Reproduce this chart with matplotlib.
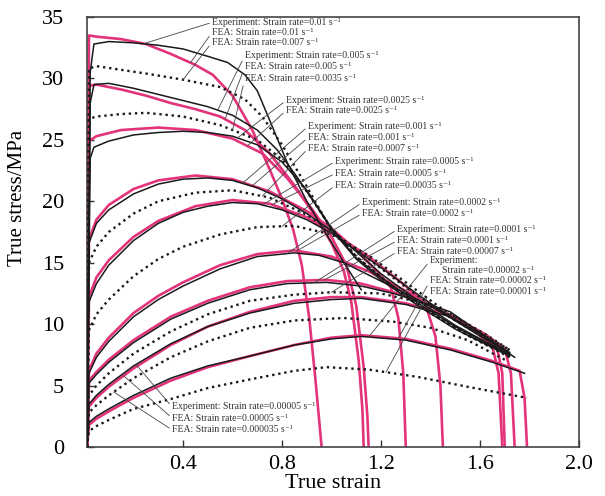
import numpy as np
import matplotlib
matplotlib.use("Agg")
import matplotlib.pyplot as plt

plt.rcParams['font.family'] = ['Liberation Serif', 'DejaVu Serif']
plt.rcParams['mathtext.fontset'] = 'stix'

# ---- experiment curves (black solid): strain, stress ----
exp_001_x = [0.012, 0.025, 0.04, 0.10, 0.20, 0.30, 0.40, 0.50, 0.58, 0.65, 0.70, 0.75, 0.82, 0.90, 0.98, 1.05, 1.12]
exp_001_y = [0, 30.5, 32.8, 33.0, 32.9, 32.7, 32.4, 31.8, 31.3, 30.3, 29.0, 26.6, 23.2, 20.0, 17.3, 15.0, 12.8]
exp_0005_x = [0.012, 0.025, 0.04, 0.10, 0.20, 0.30, 0.40, 0.50, 0.60, 0.70, 0.78, 0.86, 0.94, 1.00, 1.10, 1.20, 1.35, 1.50, 1.62, 1.72]
exp_0005_y = [0, 28.0, 29.5, 29.6, 29.2, 28.7, 28.2, 27.7, 27.0, 25.8, 24.2, 22.0, 19.6, 17.7, 15.3, 13.6, 11.5, 9.6, 8.4, 7.4]
exp_00025_x = [0.012, 0.025, 0.04, 0.10, 0.20, 0.30, 0.40, 0.50, 0.60, 0.70, 0.80, 0.90, 1.00, 1.10, 1.20, 1.35, 1.50, 1.62, 1.72]
exp_00025_y = [0, 23.5, 24.4, 24.9, 25.4, 25.6, 25.7, 25.6, 25.3, 24.6, 23.2, 20.9, 17.8, 15.4, 13.8, 11.7, 9.8, 8.5, 7.5]
exp_0001_x = [0.012, 0.02, 0.05, 0.10, 0.20, 0.30, 0.40, 0.50, 0.60, 0.70, 0.80, 0.90, 1.00, 1.10, 1.20, 1.35, 1.50, 1.62, 1.72]
exp_0001_y = [0, 16.6, 18.2, 19.3, 20.6, 21.4, 21.8, 21.9, 21.7, 21.1, 20.2, 19.0, 17.6, 15.9, 14.1, 11.9, 9.9, 8.6, 7.6]
exp_00005_x = [0.012, 0.02, 0.05, 0.10, 0.20, 0.30, 0.40, 0.50, 0.60, 0.70, 0.80, 0.90, 1.00, 1.10, 1.20, 1.35, 1.50, 1.62, 1.72]
exp_00005_y = [0, 11.8, 13.3, 14.8, 16.8, 18.2, 19.1, 19.6, 19.9, 19.8, 19.3, 18.5, 17.4, 16.0, 14.6, 12.4, 10.3, 8.8, 7.7]
exp_00002_x = [0.012, 0.02, 0.05, 0.10, 0.20, 0.30, 0.40, 0.55, 0.70, 0.85, 0.95, 1.05, 1.15, 1.30, 1.45, 1.58, 1.70]
exp_00002_y = [0, 6.0, 7.3, 8.6, 10.6, 12.0, 13.1, 14.5, 15.5, 15.8, 15.6, 15.0, 14.0, 12.5, 10.9, 9.3, 7.9]
exp_00001_x = [0.012, 0.02, 0.05, 0.10, 0.20, 0.35, 0.50, 0.67, 0.82, 0.98, 1.12, 1.25, 1.38, 1.48, 1.58, 1.70]
exp_00001_y = [0, 5.2, 5.9, 6.9, 8.5, 10.4, 11.7, 12.8, 13.3, 13.4, 13.1, 12.5, 11.7, 11.0, 9.6, 7.9]
exp_000005_x = [0.012, 0.02, 0.05, 0.10, 0.20, 0.35, 0.50, 0.67, 0.85, 1.00, 1.12, 1.30, 1.48, 1.62, 1.74]
exp_000005_y = [0, 3.5, 4.2, 5.1, 6.6, 8.4, 9.8, 10.9, 11.7, 12.0, 12.1, 11.6, 10.6, 9.0, 7.3]
exp_000002_x = [0.012, 0.02, 0.05, 0.10, 0.20, 0.35, 0.50, 0.67, 0.85, 1.00, 1.12, 1.30, 1.48, 1.65, 1.78]
exp_000002_y = [0, 2.0, 2.5, 3.1, 4.2, 5.6, 6.6, 7.4, 8.3, 8.8, 9.0, 8.7, 7.9, 6.9, 6.0]

# ---- FEA at the same rates (magenta), ending with fracture drop ----
fea_001_x = [0.012, 0.02, 0.05, 0.15, 0.25, 0.35, 0.45, 0.52, 0.60, 0.68, 0.75, 0.80, 0.845, 0.88, 0.91, 0.935, 0.96]
fea_001_y = [0, 33.5, 33.4, 33.2, 32.8, 32.0, 31.1, 30.3, 28.6, 25.8, 22.6, 20.2, 17.7, 14.8, 10.5, 5.5, 0]
fea_0005_x = [0.012, 0.02, 0.05, 0.15, 0.25, 0.35, 0.45, 0.55, 0.65, 0.75, 0.85, 0.93, 1.00, 1.05, 1.08, 1.11, 1.125, 1.13]
fea_0005_y = [0, 29.4, 29.5, 29.1, 28.6, 28.0, 27.5, 26.9, 25.8, 23.9, 21.3, 18.9, 16.6, 14.3, 11.8, 7.0, 3.0, 0]
fea_00025_x = [0.012, 0.02, 0.05, 0.15, 0.30, 0.45, 0.60, 0.72, 0.82, 0.92, 1.00, 1.06, 1.10, 1.13, 1.145, 1.15]
fea_00025_y = [0, 24.9, 25.3, 25.8, 26.0, 25.8, 25.1, 23.9, 21.9, 19.4, 17.1, 14.8, 11.5, 6.5, 2.5, 0]
fea_0001_x = [0.012, 0.02, 0.05, 0.10, 0.20, 0.30, 0.45, 0.60, 0.75, 0.90, 1.00, 1.10, 1.18, 1.24, 1.27, 1.29, 1.30]
fea_0001_y = [0, 16.9, 18.5, 19.7, 21.0, 21.7, 22.1, 21.8, 20.8, 19.2, 17.8, 16.0, 14.4, 13.0, 10.5, 6.0, 0]
fea_00005_x = [0.012, 0.02, 0.05, 0.10, 0.20, 0.30, 0.45, 0.60, 0.75, 0.90, 1.00, 1.15, 1.30, 1.38, 1.42, 1.44, 1.45]
fea_00005_y = [0, 12.2, 13.8, 15.2, 17.1, 18.4, 19.6, 20.1, 19.8, 18.7, 17.5, 15.5, 13.1, 11.6, 9.0, 5.0, 0]
fea_00002_x = [0.012, 0.02, 0.05, 0.10, 0.20, 0.30, 0.40, 0.55, 0.70, 0.85, 1.00, 1.15, 1.30, 1.45, 1.58, 1.65, 1.675, 1.69]
fea_00002_y = [0, 6.2, 7.6, 8.9, 10.9, 12.3, 13.4, 14.8, 15.7, 16.0, 15.5, 14.3, 12.7, 11.0, 9.4, 8.2, 6.0, 0]
fea_00001_x = [0.012, 0.02, 0.05, 0.10, 0.20, 0.35, 0.50, 0.67, 0.82, 0.98, 1.12, 1.25, 1.38, 1.50, 1.60, 1.67, 1.69, 1.70]
fea_00001_y = [0, 5.4, 6.1, 7.1, 8.7, 10.6, 11.9, 13.0, 13.5, 13.6, 13.3, 12.6, 11.7, 10.5, 9.2, 8.0, 6.0, 0]
fea_000005_x = [0.012, 0.02, 0.05, 0.10, 0.20, 0.35, 0.50, 0.67, 0.85, 1.00, 1.12, 1.30, 1.48, 1.62, 1.70, 1.725, 1.74]
fea_000005_y = [0, 3.3, 4.0, 4.9, 6.4, 8.3, 9.8, 11.0, 11.9, 12.2, 12.2, 11.7, 10.7, 9.2, 8.0, 6.0, 0]
fea_000002_x = [0.012, 0.02, 0.05, 0.10, 0.20, 0.35, 0.50, 0.67, 0.85, 1.00, 1.12, 1.30, 1.48, 1.65, 1.76, 1.78, 1.79]
fea_000002_y = [0, 1.8, 2.3, 2.9, 4.0, 5.4, 6.5, 7.4, 8.3, 8.9, 9.1, 8.8, 8.0, 7.0, 6.2, 4.0, 0]

# ---- FEA at intermediate rates (black dotted) ----
fea_0007_x = [0.012, 0.02, 0.05, 0.15, 0.25, 0.40, 0.55, 0.65, 0.72, 0.80, 0.90, 0.99, 1.10, 1.25, 1.40, 1.55, 1.72]
fea_0007_y = [0, 30.8, 31.0, 30.7, 30.4, 29.9, 29.3, 28.3, 26.9, 24.6, 21.2, 18.0, 15.5, 13.0, 10.9, 9.1, 7.3]
fea_00035_x = [0.012, 0.02, 0.05, 0.15, 0.25, 0.40, 0.55, 0.70, 0.80, 0.90, 1.00, 1.10, 1.25, 1.40, 1.55, 1.72]
fea_00035_y = [0, 26.7, 26.9, 27.1, 27.2, 26.9, 26.2, 25.0, 23.4, 20.8, 17.8, 15.5, 13.0, 10.9, 9.1, 7.4]
fea_00007_x = [0.012, 0.02, 0.05, 0.10, 0.20, 0.30, 0.45, 0.60, 0.75, 0.90, 1.00, 1.15, 1.30, 1.45, 1.60, 1.72]
fea_00007_y = [0, 15.0, 16.3, 17.5, 19.0, 20.0, 20.7, 20.9, 20.3, 18.9, 17.6, 15.3, 13.0, 10.9, 9.1, 7.7]
fea_000035_x = [0.012, 0.02, 0.05, 0.10, 0.20, 0.30, 0.40, 0.55, 0.70, 0.85, 1.00, 1.15, 1.30, 1.45, 1.60, 1.72]
fea_000035_y = [0, 9.5, 10.8, 12.0, 13.9, 15.3, 16.3, 17.3, 17.9, 18.0, 17.3, 15.6, 13.4, 11.2, 9.3, 7.9]
fea_0000007_x = [0.012, 0.02, 0.05, 0.10, 0.20, 0.35, 0.50, 0.67, 0.85, 1.00, 1.20, 1.35, 1.50, 1.62, 1.72]
fea_0000007_y = [0, 4.2, 5.0, 6.0, 7.6, 9.4, 10.8, 11.9, 12.4, 12.6, 12.5, 11.8, 10.6, 9.2, 7.9]
fea_0000035_x = [0.012, 0.02, 0.05, 0.10, 0.20, 0.35, 0.50, 0.67, 0.85, 1.05, 1.25, 1.40, 1.55, 1.70]
fea_0000035_y = [0, 2.8, 3.4, 4.2, 5.6, 7.3, 8.6, 9.7, 10.3, 10.5, 10.2, 9.7, 8.7, 7.1]
fea_000001_x = [0.012, 0.02, 0.05, 0.10, 0.20, 0.35, 0.50, 0.67, 0.85, 0.98, 1.15, 1.35, 1.55, 1.79]
fea_000001_y = [0, 1.3, 1.7, 2.2, 3.1, 3.9, 4.8, 5.5, 6.2, 6.5, 6.3, 5.7, 4.9, 4.0]

magenta = '#e3337b'
solid_curves = [(exp_001_x, exp_001_y), (exp_0005_x, exp_0005_y), (exp_00025_x, exp_00025_y),
                (exp_0001_x, exp_0001_y), (exp_00005_x, exp_00005_y), (exp_00002_x, exp_00002_y),
                (exp_00001_x, exp_00001_y), (exp_000005_x, exp_000005_y), (exp_000002_x, exp_000002_y)]
fea_curves = [(fea_001_x, fea_001_y), (fea_0005_x, fea_0005_y), (fea_00025_x, fea_00025_y),
              (fea_0001_x, fea_0001_y), (fea_00005_x, fea_00005_y), (fea_00002_x, fea_00002_y),
              (fea_00001_x, fea_00001_y), (fea_000005_x, fea_000005_y), (fea_000002_x, fea_000002_y)]
dot_curves = [(fea_0007_x, fea_0007_y), (fea_00035_x, fea_00035_y), (fea_00007_x, fea_00007_y),
              (fea_000035_x, fea_000035_y), (fea_0000007_x, fea_0000007_y),
              (fea_0000035_x, fea_0000035_y), (fea_000001_x, fea_000001_y)]

fig = plt.figure(figsize=(6.05, 4.96), dpi=100)
ax = fig.add_axes([86.5 / 605, 49 / 496, 492.5 / 605, 430 / 496])

for x, y in fea_curves:
    ax.plot(x, y, color=magenta, lw=1.9, zorder=2)
for x, y in solid_curves:
    ax.plot(x, y, color='#1a1a1a', lw=1.1, zorder=3)
for x, y in dot_curves:
    ax.plot(x, y, color='#1a1a1a', lw=1.7, ls=(0, (1, 1.6)), zorder=3)

# labels: text, curve, x on curve where the leader ends, text position (data)
s1 = ' s\u207b\u00b9'
labels = [
    ('Experiment: Strain rate=0.01' + s1, exp_001_x, exp_001_y, 0.24, (0.517, 34.56)),
    ('FEA: Strain rate=0.01' + s1, fea_001_x, fea_001_y, 0.43, (0.517, 33.74)),
    ('FEA: Strain rate=0.007' + s1, fea_0007_x, fea_0007_y, 0.40, (0.517, 32.93)),
    ('Experiment: Strain rate=0.005' + s1, exp_0005_x, exp_0005_y, 0.54, (0.650, 31.87)),
    ('FEA: Strain rate=0.005' + s1, fea_0005_x, fea_0005_y, 0.57, (0.650, 30.97)),
    ('FEA: Strain rate=0.0035' + s1, fea_00035_x, fea_00035_y, 0.60, (0.650, 29.99)),
    ('Experiment: Strain rate=0.0025' + s1, exp_00025_x, exp_00025_y, 0.62, (0.816, 28.20)),
    ('FEA: Strain rate=0.0025' + s1, fea_00025_x, fea_00025_y, 0.66, (0.816, 27.38)),
    ('Experiment: Strain rate=0.001' + s1, exp_0001_x, exp_0001_y, 0.64, (0.905, 26.08)),
    ('FEA: Strain rate=0.001' + s1, fea_0001_x, fea_0001_y, 0.68, (0.905, 25.18)),
    ('FEA: Strain rate=0.0007' + s1, fea_00007_x, fea_00007_y, 0.72, (0.905, 24.29)),
    ('Experiment: Strain rate=0.0005' + s1, exp_00005_x, exp_00005_y, 0.72, (1.014, 23.23)),
    ('FEA: Strain rate=0.0005' + s1, fea_00005_x, fea_00005_y, 0.76, (1.014, 22.25)),
    ('FEA: Strain rate=0.00035' + s1, fea_000035_x, fea_000035_y, 0.80, (1.014, 21.27)),
    ('Experiment: Strain rate=0.0002' + s1, exp_00002_x, exp_00002_y, 0.82, (1.123, 19.89)),
    ('FEA: Strain rate=0.0002' + s1, fea_00002_x, fea_00002_y, 0.86, (1.123, 18.99)),
    ('Experiment: Strain rate=0.0001' + s1, exp_00001_x, exp_00001_y, 0.93, (1.265, 17.69)),
    ('FEA: Strain rate=0.0001' + s1, fea_00001_x, fea_00001_y, 0.97, (1.265, 16.79)),
    ('FEA: Strain rate=0.00007' + s1, fea_0000007_x, fea_0000007_y, 1.00, (1.265, 15.89)),
    ('Experiment:', exp_000002_x, exp_000002_y, 1.15, (1.398, 15.16)),
    ('FEA: Strain rate=0.00002' + s1, fea_000002_x, fea_000002_y, 1.27, (1.398, 13.53)),
    ('FEA: Strain rate=0.00001' + s1, fea_000001_x, fea_000001_y, 1.22, (1.398, 12.63)),
    ('Experiment: Strain rate=0.00005' + s1, exp_000005_x, exp_000005_y, 0.21, (0.356, 3.26)),
    ('FEA: Strain rate=0.00005' + s1, fea_000005_x, fea_000005_y, 0.16, (0.356, 2.36)),
    ('FEA: Strain rate=0.000035' + s1, fea_0000035_x, fea_0000035_y, 0.12, (0.356, 1.39)),
]
for text, cx, cy, tx, pos in labels:
    ty = np.interp(tx, cx, cy)
    ax.annotate(text, xy=(tx, ty), xytext=pos, fontsize=7.0, color='#333333',
                ha='left', va='center', zorder=4,
                arrowprops=dict(arrowstyle='-', lw=0.6, color='#444444',
                                shrinkA=0, shrinkB=0, relpos=(0, 0.5)))
ax.text(1.446, 14.34, 'Strain rate=0.00002' + s1, fontsize=7.0, color='#333333',
        ha='left', va='center', zorder=4)

ax.set_xlim(0.01, 2.0)
ax.set_ylim(0, 35)
ax.set_xticks([0.4, 0.8, 1.2, 1.6, 2.0])
ax.set_xticklabels(['0.4', '0.8', '1.2', '1.6', '2.0'])
ax.set_yticks([0, 5, 10, 15, 20, 25, 30, 35])
ax.tick_params(direction='in', length=5, width=1, labelsize=16, color='#333333')
ax.tick_params(axis='x', pad=6)
ax.tick_params(axis='y', pad=16)
for sp in ax.spines.values():
    sp.set_linewidth(1.2)
    sp.set_color('#444444')
ax.set_xlabel('True strain', fontsize=16, labelpad=0)
ax.set_ylabel('True stress/MPa', fontsize=15)
ax.yaxis.set_label_coords(-0.121, 0.58)

fig.savefig('out.png', dpi=100)
